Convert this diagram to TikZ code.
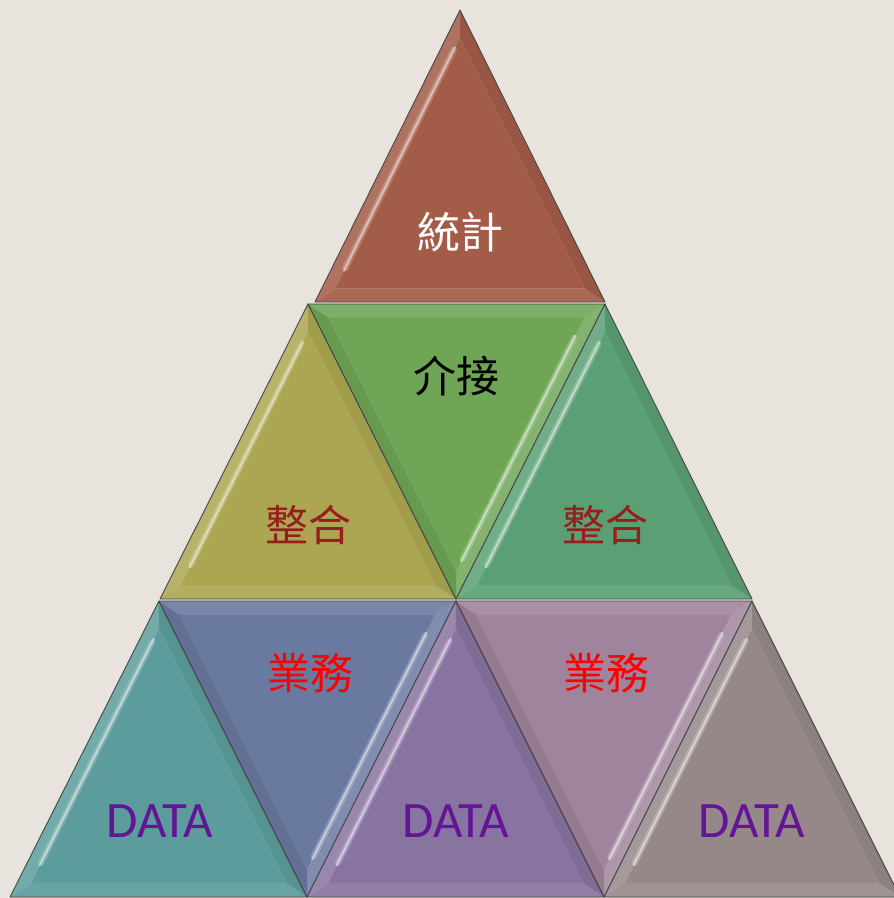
\documentclass[tikz,border=0pt]{standalone}
\usepackage{fontspec}
\newfontfamily\cjk{Noto Sans CJK TC}
\newfontfamily\latf{Carlito}
\usetikzlibrary{calc}
\definecolor{bg}{RGB}{232,228,221}
\definecolor{cTop}{RGB}{163,92,72}
\definecolor{cOlive}{RGB}{172,166,82}
\definecolor{cGreen}{RGB}{110,166,86}
\definecolor{cTeal}{RGB}{90,160,116}
\definecolor{cCyan}{RGB}{92,156,156}
\definecolor{cSlate}{RGB}{106,121,160}
\definecolor{cPurple}{RGB}{136,116,160}
\definecolor{cMauve}{RGB}{160,131,156}
\definecolor{cGray}{RGB}{150,136,136}
\definecolor{txRed}{RGB}{150,30,30}
\definecolor{txPurple}{RGB}{100,20,150}
\definecolor{edgecol}{RGB}{70,70,70}
\tikzset{
  edge/.style={draw=edgecol,line width=0.9pt,line join=round},
  hlwide/.style={white,opacity=.22,line width=6pt,line cap=round},
  hl/.style={white,opacity=.45,line width=2pt,line cap=round},
  cjklabel/.style={font=\cjk\fontsize{43}{46}\selectfont,inner sep=0pt},
  datalabel/.style={font=\latf\fontsize{51}{54}\selectfont,text=txPurple,inner sep=0pt}
}
\newcommand\mktri[4]{%
  \coordinate (#1a) at #2; \coordinate (#1b) at #3; \coordinate (#1c) at #4;
  \coordinate (#1o) at (barycentric cs:#1a=1,#1b=1,#1c=1);
  \coordinate (#1ia) at ($(#1o)!0.86!(#1a)$);
  \coordinate (#1ib) at ($(#1o)!0.86!(#1b)$);
  \coordinate (#1ic) at ($(#1o)!0.86!(#1c)$);
}
% up triangle: a apex, b base left, c base right
\newcommand\uptri[5]{%
  \mktri{#1}{#2}{#3}{#4}%
  \fill[#5!86!white] (#1a)--(#1b)--(#1ib)--(#1ia)--cycle;
  \fill[#5!92!white] (#1b)--(#1c)--(#1ic)--(#1ib)--cycle;
  \fill[#5!94!black] (#1c)--(#1a)--(#1ia)--(#1ic)--cycle;
  \fill[#5] (#1ia)--(#1ib)--(#1ic)--cycle;
  \draw[hlwide] ($(#1ia)!0.05!(#1ib)$)--($(#1ia)!0.92!(#1ib)$);
  \draw[hl] ($(#1ia)!0.04!(#1ib)$)--($(#1ia)!0.93!(#1ib)$);
  \draw[edge] (#1a)--(#1b)--(#1c)--cycle;
}
% down triangle: a top left, b top right, c bottom
\newcommand\dntri[5]{%
  \mktri{#1}{#2}{#3}{#4}%
  \fill[#5!90!white] (#1a)--(#1b)--(#1ib)--(#1ia)--cycle;
  \fill[#5!85!white] (#1b)--(#1c)--(#1ic)--(#1ib)--cycle;
  \fill[#5!93!black] (#1c)--(#1a)--(#1ia)--(#1ic)--cycle;
  \fill[#5] (#1ia)--(#1ib)--(#1ic)--cycle;
  \draw[hlwide] ($(#1ib)!0.08!(#1ic)$)--($(#1ib)!0.95!(#1ic)$);
  \draw[hl] ($(#1ib)!0.07!(#1ic)$)--($(#1ib)!0.96!(#1ic)$);
  \draw[edge] (#1a)--(#1b)--(#1c)--cycle;
}
\begin{document}
\begin{tikzpicture}[x=1pt,y=-1pt]
\useasboundingbox (0,0) rectangle (894,898);
\clip (0,0) rectangle (894,898);
\fill[bg] (0,0) rectangle (894,898);
% row 0
\uptri{T}{(460,10)}{(315,302)}{(605,302)}{cTop}
% row 1
\uptri{L}{(308,304)}{(160,599)}{(456,599)}{cOlive}
\dntri{M}{(308,304)}{(605,304)}{(456,599)}{cGreen}
\uptri{R}{(605,304)}{(456,599)}{(752,599)}{cTeal}
% row 2
\uptri{Pa}{(159,601)}{(10,897)}{(307,897)}{cCyan}
\dntri{Pb}{(159,601)}{(456,601)}{(307,897)}{cSlate}
\uptri{Pc}{(456,601)}{(307,897)}{(604,897)}{cPurple}
\dntri{Pd}{(456,601)}{(752,601)}{(604,897)}{cMauve}
\uptri{Pe}{(752,601)}{(604,897)}{(900,897)}{cGray}
% labels
\node[cjklabel,text=white] (t1) at (460,232) {統計};
\node[cjklabel,text=black] (t2) at (456,376) {介接};
\node[cjklabel,text=txRed] (t3) at (308,525) {整合};
\node[cjklabel,text=txRed] (t4) at (605,525) {整合};
\node[cjklabel,text=red] (t5) at (310,673) {業務};
\node[cjklabel,text=red] (t6) at (606,673) {業務};
\node[datalabel] (d1) at (160,821) {DATA};
\node[datalabel] (d2) at (456,821) {DATA};
\node[datalabel] (d3) at (752,821) {DATA};
\end{tikzpicture}
\end{document}
